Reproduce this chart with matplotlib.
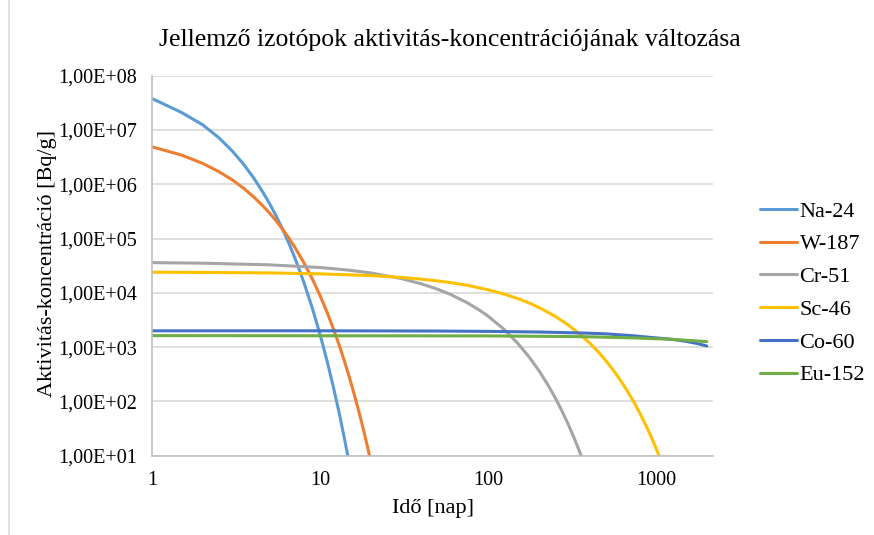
import math
import matplotlib.pyplot as plt
from matplotlib.lines import Line2D
from matplotlib.ticker import FixedLocator, FuncFormatter, NullLocator

plt.rcParams['font.family'] = ['Liberation Serif', 'DejaVu Serif']

# Data (days, Bq/g)
na24_days = [1, 1.5, 2, 2.5, 3, 3.5, 4, 4.5, 5, 5.5, 6, 6.5, 7, 7.5, 8, 9, 10,
             11, 12, 13, 14, 15]
na24_vals = [3.8e7, 2.1e7, 1.25e7, 7.2e6, 4.11e6, 2.36e6, 1.35e6, 7.75e5, 4.45e5,
             2.55e5, 1.46e5, 8.4e4, 4.81e4, 2.76e4, 1.58e4, 5.21e3, 1.71e3,
             564, 185, 61, 20, 6.6]

w187_days = [1, 1.5, 2, 2.5, 3, 3.5, 4, 4.5, 5, 5.5, 6, 6.5, 7, 7.5, 8, 9, 10,
             11, 12, 13, 14, 15, 16, 17, 18, 19, 20]
w187_vals = [4.9e6, 3.45e6, 2.43e6, 1.71e6, 1.21e6, 8.5e5, 5.98e5, 4.2e5, 2.97e5,
             2.09e5, 1.47e5, 1.04e5, 7.3e4, 5.1e4, 3.62e4, 1.8e4, 8.92e3, 4.42e3,
             2.19e3, 1.09e3, 540, 268, 133, 66, 33, 16.3, 8.1]

cr51_days = [1, 2, 5, 10, 15, 20, 30, 40, 50, 60, 75, 90, 100, 125, 150, 175, 200,
             225, 250, 275, 300, 325, 350, 375, 400]
cr51_vals = [3.6e4, 3.52e4, 3.28e4, 2.93e4, 2.61e4, 2.33e4, 1.85e4, 1.47e4, 1.17e4,
             9.3e3, 6.59e3, 4.68e3, 3.72e3, 2.10e3, 1.18e3, 665, 375, 211, 119,
             67, 37.8, 21.3, 12.0, 6.8, 3.8]

sc46_days = [1, 2, 5, 10, 20, 25, 30, 40, 50, 60, 75, 100, 125, 150, 175, 200, 250,
             300, 350, 400, 450, 500, 550, 600, 650, 700, 750, 800, 850, 900, 950,
             1000, 1050, 1100]
sc46_vals = [2.4e4, 2.38e4, 2.33e4, 2.24e4, 2.08e4, 2.0e4, 1.93e4, 1.79e4, 1.66e4,
             1.54e4, 1.38e4, 1.14e4, 9.48e3, 7.87e3, 6.53e3, 5.41e3, 3.72e3, 2.56e3,
             1.76e3, 1.21e3, 833, 573, 394, 271, 186, 128, 88, 60.7, 41.7, 28.7,
             19.7, 13.6, 9.3, 6.4]

co60_days = [1, 10, 50, 100, 200, 365, 500, 730, 1000, 1250, 1500, 1750, 2000]
co60_vals = [2.0e3, 2.0e3, 1.98e3, 1.95e3, 1.9e3, 1.82e3, 1.76e3, 1.62e3, 1.48e3,
             1.39e3, 1.28e3, 1.17e3, 1.05e3]

eu152_days = [1, 100, 365, 730, 1000, 1250, 1500, 1750, 2000]
eu152_vals = [1.63e3, 1.61e3, 1.56e3, 1.48e3, 1.43e3, 1.39e3, 1.34e3, 1.3e3, 1.26e3]

series = [
    ('Na-24', na24_days, na24_vals, '#5B9BD5'),
    ('W-187', w187_days, w187_vals, '#ED7D31'),
    ('Cr-51', cr51_days, cr51_vals, '#A5A5A5'),
    ('Sc-46', sc46_days, sc46_vals, '#FFC000'),
    ('Co-60', co60_days, co60_vals, '#4472C4'),
    ('Eu-152', eu152_days, eu152_vals, '#70AD47'),
]

fig = plt.figure(figsize=(8.74, 5.35), dpi=100)
ax = fig.add_axes([0.1739, 0.1482, 0.6419, 0.7103])

for name, days, vals, color in series:
    ax.plot(days, vals, color=color, lw=2.2, label=name, solid_capstyle='round',
            solid_joinstyle='round')

ax.set_xscale('log')
ax.set_yscale('log')
ax.set_xlim(1, 2180)
ax.set_ylim(1e1, 1e8)

ax.yaxis.set_major_locator(FixedLocator([10.0 ** k for k in range(1, 9)]))
ax.yaxis.set_minor_locator(NullLocator())
ax.yaxis.set_major_formatter(FuncFormatter(lambda v, p: '1,00E+%02d' % round(math.log10(v))))
ax.xaxis.set_major_locator(FixedLocator([1, 10, 100, 1000]))
ax.xaxis.set_minor_locator(NullLocator())
ax.xaxis.set_major_formatter(FuncFormatter(lambda v, p: '%d' % v))

ax.grid(axis='y', color='#D9D9D9', lw=1.2)
ax.set_axisbelow(True)
ax.tick_params(length=0, labelsize=14.5, colors='#000000')
ax.tick_params(axis='y', pad=11)
ax.tick_params(axis='x', pad=11)
for side in ['top', 'right']:
    ax.spines[side].set_visible(False)
for side in ['left', 'bottom']:
    ax.spines[side].set_color('#BFBFBF')
    ax.spines[side].set_linewidth(1.2)

fig.text(0.515, 0.925, 'Jellemző izotópok aktivitás-koncentrációjának változása',
         ha='center', va='center', fontsize=18.5)
fig.text(0.495, 0.05, 'Idő [nap]', ha='center', va='center', fontsize=16)
fig.text(0.054, 0.508, 'Aktivitás-koncentráció [Bq/g]', ha='center', va='center',
         rotation=90, fontsize=16)

fig.legend(loc='center left', bbox_to_anchor=(0.869, 0.452), frameon=False,
           fontsize=16, handlelength=1.7, handletextpad=0.1, labelspacing=0.55,
           borderpad=0, borderaxespad=0)

fig.add_artist(Line2D([9 / 874, 9 / 874], [0, 1], color='#D9D9D9', lw=1.2))

fig.savefig('out.png', dpi=100)
